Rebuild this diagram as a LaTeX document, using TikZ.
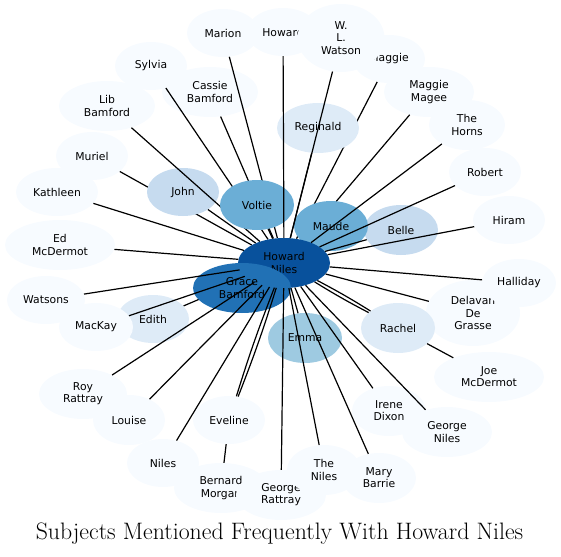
\documentclass[tikz,border=0pt]{standalone}
\usepackage{fontspec}
\newfontfamily\dejavu{DejaVu Sans}
\usetikzlibrary{shapes.geometric}
\definecolor{bA}{HTML}{F7FBFF}
\definecolor{bB}{HTML}{DEEBF7}
\definecolor{bC}{HTML}{C6DBEF}
\definecolor{bD}{HTML}{9ECAE1}
\definecolor{bE}{HTML}{6BAED6}
\definecolor{bG}{HTML}{2171B5}
\definecolor{bH}{HTML}{08519C}
\pgfdeclarelayer{outer}
\pgfdeclarelayer{elow}
\pgfdeclarelayer{johnl}
\pgfdeclarelayer{elib}
\pgfdeclarelayer{inner}
\pgfdeclarelayer{mack}
\pgfsetlayers{outer,elow,johnl,elib,inner,mack,main}
\tikzset{
  nd/.style={ellipse, inner sep=0pt, align=center, text=black,
    font=\dejavu\fontsize{10.8}{12.2}\selectfont},
  ed/.style={line width=1.2pt, black},
  titletext/.style={font=\fontsize{23.8}{28}\selectfont}
}
\begin{document}
\begin{tikzpicture}[x=1pt,y=-1pt]
\useasboundingbox (0,0) rectangle (561,556);
\begin{pgfonlayer}{outer}
\node[nd, fill=bA, minimum width=72, minimum height=48] (marion) at (223,33) {Marion};
\node[nd, fill=bA, minimum width=72, minimum height=48] (howardt) at (283,32) {Howard};
\node[nd, fill=bA, minimum width=72, minimum height=48] (maggie) at (389,59) {Maggie};
\node[nd, fill=bA, minimum width=87, minimum height=68] (wlw) at (341,38) {W.\\L.\\Watson};
\node[nd, fill=bA, minimum width=90, minimum height=50] (magee) at (429,92) {Maggie\\Magee};
\node[nd, fill=bA, minimum width=76, minimum height=50] (horns) at (467,125) {The\\Horns};
\node[nd, fill=bA, minimum width=72, minimum height=48] (robert) at (485,172) {Robert};
\node[nd, fill=bA, minimum width=72, minimum height=48] (hiram) at (509,220) {Hiram};
\node[nd, fill=bA, minimum width=94, minimum height=66] (delavan) at (473,313) {Delavan\\De\\Grasse};
\node[nd, fill=bA, minimum width=74, minimum height=48] (halliday) at (519,283) {Halliday};
\node[nd, fill=bA, minimum width=110, minimum height=50] (joe) at (489,377) {Joe\\McDermot};
\node[nd, fill=bA, minimum width=74, minimum height=50] (irene) at (389,411) {Irene\\Dixon};
\node[nd, fill=bA, minimum width=90, minimum height=50] (georgen) at (447,432) {George\\Niles};
\node[nd, fill=bA, minimum width=94, minimum height=50] (bernard) at (221,488) {Bernard\\Morgan};
\node[nd, fill=bA, minimum width=90, minimum height=50] (georger) at (281,495) {George\\Rattray};
\node[nd, fill=bA, minimum width=74, minimum height=50] (theniles) at (324,470) {The\\Niles};
\node[nd, fill=bA, minimum width=74, minimum height=50] (mary) at (379,478) {Mary\\Barrie};
\node[nd, fill=bA, minimum width=72, minimum height=48] (niles) at (163,463) {Niles};
\node[nd, fill=bA, minimum width=72, minimum height=48] (eveline) at (229,420) {Eveline};
\node[nd, fill=bA, minimum width=72, minimum height=50] (louise) at (129,420) {Louise};
\node[nd, fill=bA, minimum width=88, minimum height=50] (roy) at (83,394) {Roy\\Rattray};
\node[nd, fill=bA, minimum width=78, minimum height=48] (watsons) at (46,300) {Watsons};
\node[nd, fill=bA, minimum width=110, minimum height=50] (edmc) at (60,245) {Ed\\McDermot};
\node[nd, fill=bA, minimum width=82, minimum height=48] (kathleen) at (57,192) {Kathleen};
\node[nd, fill=bA, minimum width=72, minimum height=48] (muriel) at (92,156) {Muriel};
\node[nd, fill=bA, minimum width=96, minimum height=50] (lib) at (107,106) {Lib\\Bamford};
\node[nd, fill=bA, minimum width=96, minimum height=50] (cassie) at (210,92) {Cassie\\Bamford};
\node[nd, fill=bA, minimum width=72, minimum height=48] (sylvia) at (151,66) {Sylvia};
\end{pgfonlayer}
\begin{pgfonlayer}{johnl}
\node[nd, fill=bC, minimum width=72, minimum height=48] (john) at (183,192) {John};
\end{pgfonlayer}
\begin{pgfonlayer}{inner}
\node[nd, fill=bB, minimum width=82, minimum height=50] (reginald) at (318,128) {Reginald};
\node[nd, fill=bE, minimum width=74, minimum height=50] (voltie) at (257,205) {Voltie};
\node[nd, fill=bC, minimum width=74, minimum height=50] (belle) at (401,230) {Belle};
\node[nd, fill=bB, minimum width=74, minimum height=50] (rachel) at (398,328) {Rachel};
\node[nd, fill=bD, minimum width=74, minimum height=50] (emma) at (305,338) {Emma};
\node[nd, fill=bB, minimum width=72, minimum height=48] (edith) at (153,319) {Edith};
\node[nd, fill=bE, minimum width=74, minimum height=50] (maude) at (331,226) {Maude};
\node[nd, fill=bH, minimum width=92, minimum height=50] (howard) at (284,263) {Howard\\Niles};
\node[nd, fill=bG, minimum width=98, minimum height=50] (grace) at (242,288) {Grace\\Bamford};
\end{pgfonlayer}
\begin{pgfonlayer}{mack}
\node[nd, fill=bA, minimum width=74, minimum height=48] (mackay) at (96,327) {MacKay};
\end{pgfonlayer}
% edges hidden under inner nodes
\begin{pgfonlayer}{elow}
\draw[ed] (howard) -- (maggie);
\draw[ed] (howard) -- (magee);
\draw[ed] (howard) -- (sylvia);
\draw[ed] (howard) -- (cassie);
\draw[ed] (howard) -- (marion);
\draw[ed] (howard) -- (muriel);
\draw[ed] (howard) -- (edith);
\end{pgfonlayer}
\begin{pgfonlayer}{elib}
\draw[ed] (howard) -- (lib);
\end{pgfonlayer}
% edges on top
\draw[ed] (howard) -- (howardt);
\draw[ed] (howard) -- (wlw);
\draw[ed] (howard) -- (reginald);
\draw[ed] (howard) -- (horns);
\draw[ed] (howard) -- (robert);
\draw[ed] (howard) -- (belle);
\draw[ed] (howard) -- (hiram);
\draw[ed] (howard) -- (halliday);
\draw[ed] (howard) -- (delavan);
\draw[ed] (howard) to[bend left=2] (rachel);
\draw[ed] (howard) to[bend right=2] (rachel);
\draw[ed] (rachel) -- (joe);
\draw[ed] (howard) -- (irene);
\draw[ed] (howard) -- (georgen);
\draw[ed] (howard) -- (mary);
\draw[ed] (howard) -- (theniles);
\draw[ed] (howard) -- (georger);
\draw[ed] (howard) -- (emma);
\draw[ed] (howard) to[bend left=2] (eveline);
\draw[ed] (howard) to[bend right=2] (eveline);
\draw[ed] (eveline) -- (bernard);
\draw[ed] (howard) -- (niles);
\draw[ed] (howard) -- (louise);
\draw[ed] (howard) -- (roy);
\draw[ed] (howard) -- (mackay);
\draw[ed] (howard) -- (watsons);
\draw[ed] (howard) -- (edmc);
\draw[ed] (howard) -- (kathleen);
\draw[ed] (howard) -- (john);
\draw[ed] (howard) -- (voltie);
\node[titletext] (title) at (279.5,534) {Subjects Mentioned Frequently With Howard Niles};
\end{tikzpicture}
\end{document}
